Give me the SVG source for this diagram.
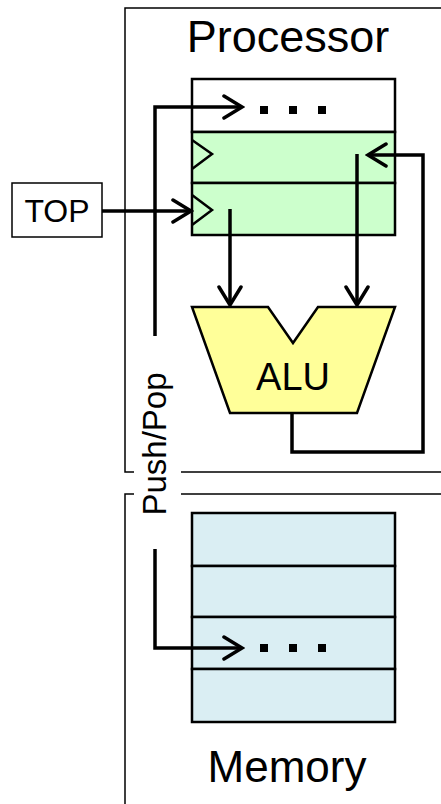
<svg xmlns="http://www.w3.org/2000/svg" width="441" height="804" viewBox="0 0 441 804">
<style>
text{font-family:"Liberation Sans",Arial,sans-serif;fill:#000}
.frame{fill:none;stroke:#000;stroke-width:1.5}
.box{stroke:#000;stroke-width:2.5}
.wire{fill:none;stroke:#000;stroke-width:3.5}
.clk{fill:none;stroke:#000;stroke-width:2.5}
</style>
<defs>
<marker id="arr" viewBox="0 0 24 26" refX="21" refY="13" markerWidth="24" markerHeight="26" markerUnits="userSpaceOnUse" orient="auto">
<path d="M3,2 L21,13 L3,24" fill="none" stroke="#000" stroke-width="3.5" stroke-linecap="round" stroke-linejoin="miter"/>
</marker>
</defs>
<rect width="441" height="804" fill="#fff"/>
<g id="processor-frame">
<path class="frame" d="M441,8 H125 V472 H134 M181,472 H441"/>
<text x="288" y="52" font-size="45" text-anchor="middle">Processor</text>
</g>
<g id="memory-frame">
<path class="frame" d="M441,494 H181 M134,494 H125 V804"/>
<text x="287" y="782" font-size="44" text-anchor="middle">Memory</text>
</g>
<g id="registers">
<rect class="box" x="192" y="79" width="203" height="53" fill="#fff"/>
<rect class="box" x="192" y="132" width="203" height="51" fill="#ccffcc"/>
<rect class="box" x="192" y="183" width="203" height="52" fill="#ccffcc"/>
<path class="clk" d="M192,140 L212,154 L192,169 M192,195 L212,210 L192,225"/>
<g fill="#000">
<rect x="260" y="106" width="8" height="8"/>
<rect x="289" y="106" width="8" height="8"/>
<rect x="318" y="106" width="8" height="8"/>
</g>
</g>
<g id="top">
<rect x="12" y="183" width="90" height="54" fill="#fff" stroke="#000" stroke-width="1.5"/>
<text x="57" y="222" font-size="32" text-anchor="middle">TOP</text>
</g>
<g id="alu">
<polygon class="box" points="192,307 268,307 293,343 318,307 395,307 357,413 230,413" fill="#ffff99"/>
<text x="293" y="390" font-size="38" text-anchor="middle">ALU</text>
</g>
<g id="memory">
<rect class="box" x="192" y="513" width="203" height="53" fill="#daeef3"/>
<rect class="box" x="192" y="566" width="203" height="51" fill="#daeef3"/>
<rect class="box" x="192" y="617" width="203" height="52" fill="#daeef3"/>
<rect class="box" x="192" y="669" width="203" height="53" fill="#daeef3"/>
<g fill="#000">
<rect x="260" y="644" width="8" height="8"/>
<rect x="289" y="644" width="8" height="8"/>
<rect x="318" y="644" width="8" height="8"/>
</g>
</g>
<g id="pushpop-label">
<text transform="translate(166,444) rotate(-90)" font-size="33" text-anchor="middle">Push/Pop</text>
</g>
<g id="connectors">
<path class="wire" d="M155,336 V107 H242" marker-end="url(#arr)"/>
<path class="wire" d="M155,549 V648 H242" marker-end="url(#arr)"/>
<path class="wire" d="M102,211 H191" marker-end="url(#arr)"/>
<path class="wire" d="M230,209 V305" marker-end="url(#arr)"/>
<path class="wire" d="M357,154 V305" marker-end="url(#arr)"/>
<path class="wire" d="M292,413 V452 H423 V155 H368" marker-end="url(#arr)"/>
</g>
</svg>
